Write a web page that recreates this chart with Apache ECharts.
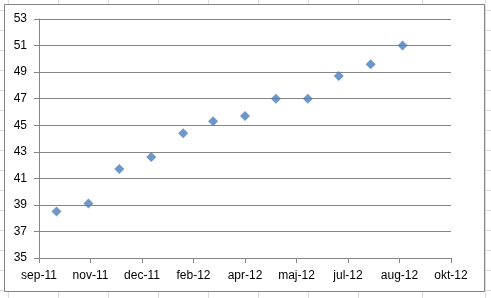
<!DOCTYPE html>
<html>
<head>
<meta charset="utf-8">
<script src="https://cdn.jsdelivr.net/npm/echarts@6/dist/echarts.min.js"></script>
<style>
  html, body { margin: 0; padding: 0; background: #fff; }
  #chart-wrapper { width: 491px; height: 298px; }
</style>
</head>
<body>
<div id="chart-wrapper"></div>
<script>
// monthly readings, first of each month
const dates = [
  "2011-10-01", "2011-11-01", "2011-12-01", "2012-01-01",
  "2012-02-01", "2012-03-01", "2012-04-01", "2012-05-01",
  "2012-06-01", "2012-07-01", "2012-08-01", "2012-09-01",
];
const values = [38.5, 39.1, 41.7, 42.6, 44.4, 45.3, 45.7, 47.0, 47.0, 48.7, 49.6, 51.0];
const monthNames = ["jan", "feb", "mar", "apr", "maj", "jun", "jul", "aug", "sep", "okt", "nov", "dec"];

// x axis in spreadsheet day serials (as the original sheet did)
const xMin = 40800;
const xMax = 41200;
const xStep = 50;
const yMin = 35;
const yMax = 53;
const yStep = 2;

const EPOCH = Date.UTC(1899, 11, 30);
const DAY = 86400000;

const toSerial = (s) => {
  const [y, m, d] = s.split("-").map(Number);
  return Math.round((Date.UTC(y, m - 1, d) - EPOCH) / DAY);
};
const serialLabel = (v) => {
  const d = new Date(EPOCH + v * DAY);
  const yy = String(d.getUTCFullYear() % 100).padStart(2, "0");
  return monthNames[d.getUTCMonth()] + "-" + yy;
};

// spreadsheet cell lines behind the chart box
const sheetLines = [];
[8, 58, 108, 158, 208, 258, 308, 358, 422, 485].forEach((x) => {
  sheetLines.push({ type: "line", shape: { x1: x + 0.5, y1: 0, x2: x + 0.5, y2: 298 }, style: { stroke: "#dadcdd", lineWidth: 1 }, z: 0 });
});
for (let y = 10; y < 298; y += 20) {
  sheetLines.push({ type: "line", shape: { x1: 0, y1: y + 0.5, x2: 491, y2: y + 0.5 }, style: { stroke: "#dadcdd", lineWidth: 1 }, z: 0 });
}

const chartDom = document.getElementById("chart-wrapper");
const chart = echarts.init(chartDom);

const points = dates.map((d, i) => [toSerial(d), values[i]]);

const axisCommon = {
  z: 5,
  axisLine: { show: true, lineStyle: { color: "#868686", width: 1 } },
  axisTick: { show: true, length: 5, inside: false, lineStyle: { color: "#868686" } },
};

const option = {
  animation: false,
  backgroundColor: "#fff",
  graphic: [
    ...sheetLines,
    {
      type: "rect",
      shape: { x: 4.5, y: 4.5, width: 480, height: 287 },
      style: { fill: "#fff", stroke: "#868686", lineWidth: 1 },
      z: 1,
    },
  ],
  grid: {
    left: 39,
    right: 40,
    top: 19,
    bottom: 40,
  },
  xAxis: {
    ...axisCommon,
    type: "value",
    min: xMin,
    max: xMax,
    interval: xStep,
    splitLine: { show: false },
    axisLabel: {
      margin: 12,
      color: "#000",
      fontFamily: "Liberation Sans",
      fontSize: 12,
      formatter: serialLabel,
    },
  },
  yAxis: {
    ...axisCommon,
    type: "value",
    min: yMin,
    max: yMax,
    interval: yStep,
    splitLine: { show: true, lineStyle: { color: "#868686", width: 1 } },
    axisLabel: {
      margin: 12,
      color: "#000",
      fontFamily: "Liberation Sans",
      fontSize: 12,
    },
  },
  series: [
    {
      type: "scatter",
      data: points,
      symbol: "diamond",
      symbolSize: 10,
      itemStyle: { color: "#4a7ebb" },
      z: 10,
    },
  ],
};
chart.setOption(option);
</script>
</body>
</html>
